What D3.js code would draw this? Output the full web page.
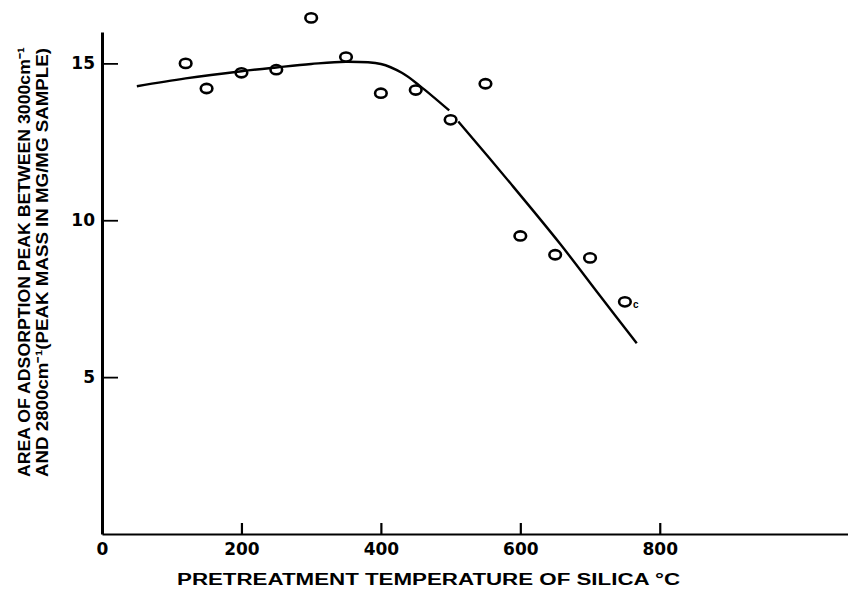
<!DOCTYPE html>
<html>
<head>
<meta charset="utf-8">
<script src="https://cdn.jsdelivr.net/npm/d3@7"></script>
<style>
  body { margin: 0; background: #fff; }
  svg text { font-family: "Liberation Sans", Arial, sans-serif; font-weight: bold; fill: #000; }
  svg .tick text { font-family: "DejaVu Sans", sans-serif; }
</style>
</head>
<body>
<div id="chart"></div>
<script>
// data
var temps = [120, 150, 200, 250, 300, 350, 400, 450, 500, 550, 600, 650, 700, 750];
var areas = [15.0, 14.2, 14.7, 14.8, 16.45, 15.2, 14.05, 14.15, 13.2, 14.35, 9.5, 8.9, 8.8, 7.4];

// smooth curve drawn by hand, broken near the 500 point
var curveA = [[50, 14.27], [120, 14.52], [200, 14.75], [250, 14.87], [300, 14.98], [350, 15.05], [400, 14.98], [430, 14.7], [455, 14.3], [498, 13.5]];
var curveB = [[511, 13.15], [585, 11.2], [657, 9.25], [714, 7.6], [767, 6.08]];

var xTicks = [0, 200, 400, 600, 800];
var yTicks = [5, 10, 15];

var width = 848, height = 590;

var svg = d3.select("#chart")
  .append("svg")
    .attr("width", width)
    .attr("height", height);

var x = d3.scaleLinear().domain([0, 1070]).range([102, 848]);
var y = d3.scaleLinear().domain([0, 16]).range([534, 32]);

// x axis, ticks pointing inward
var xAxis = svg.append("g")
  .attr("transform", "translate(0," + y(0) + ")")
  .call(d3.axisBottom(x).tickValues(xTicks).tickSizeInner(-11).tickSizeOuter(0).tickPadding(9).tickFormat(d3.format("d")));
xAxis.select(".domain").attr("stroke-width", 2.2);
xAxis.selectAll(".tick line").attr("stroke-width", 2.2)
  .attr("opacity", function(d) { return d === 0 ? 0 : 1; });
xAxis.selectAll(".tick text").style("font-size", "17px");

// y axis
var yAxis = svg.append("g")
  .attr("transform", "translate(" + x(0) + ",0)")
  .call(d3.axisLeft(y).tickValues(yTicks).tickSizeInner(-16).tickSizeOuter(0).tickPadding(7));
yAxis.select(".domain").attr("stroke-width", 3);
yAxis.selectAll(".tick line").attr("stroke-width", 1.8);
yAxis.selectAll(".tick text").style("font-size", "17px");

// curve
var line = d3.line()
  .x(function(d) { return x(d[0]); })
  .y(function(d) { return y(d[1]); })
  .curve(d3.curveCatmullRom.alpha(0.5));

svg.selectAll(".fit")
  .data([curveA, curveB])
  .enter()
  .append("path")
    .attr("class", "fit")
    .attr("d", line)
    .attr("fill", "none")
    .attr("stroke", "#000")
    .attr("stroke-width", 2.4);

// open circles
svg.selectAll(".pt")
  .data(temps)
  .enter()
  .append("ellipse")
    .attr("class", "pt")
    .attr("cx", function(d) { return x(d); })
    .attr("cy", function(d, i) { return y(areas[i]); })
    .attr("rx", 5.8)
    .attr("ry", 4.6)
    .attr("fill", "none")
    .attr("stroke", "#000")
    .attr("stroke-width", 2.6);

// small mark next to the last point
svg.append("text")
  .attr("x", x(750) + 8)
  .attr("y", y(7.4) + 6)
  .style("font-size", "10px")
  .text("c");

// axis titles
svg.append("text")
  .attr("x", 177)
  .attr("y", 585)
  .attr("textLength", 503)
  .attr("lengthAdjust", "spacingAndGlyphs")
  .style("font-size", "16px")
  .text("PRETREATMENT  TEMPERATURE  OF SILICA  \u00B0C");

var ylab = svg.append("g").attr("transform", "rotate(-90)");
ylab.append("text")
  .attr("x", -477)
  .attr("y", 30)
  .attr("textLength", 430)
  .attr("lengthAdjust", "spacingAndGlyphs")
  .style("font-size", "17px")
  .text("AREA OF  ADSORPTION  PEAK  BETWEEN  3000cm\u207B\u00B9");
ylab.append("text")
  .attr("x", -477)
  .attr("y", 48)
  .attr("textLength", 429)
  .attr("lengthAdjust", "spacingAndGlyphs")
  .style("font-size", "17px")
  .text("AND 2800cm\u207B\u00B9(PEAK MASS IN MG/MG SAMPLE)");
</script>
</body>
</html>
